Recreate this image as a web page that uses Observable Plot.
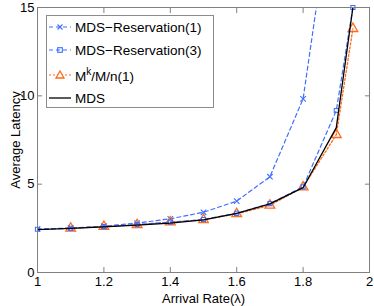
<!DOCTYPE html>
<html><head><meta charset="utf-8">
<script src="https://cdn.jsdelivr.net/npm/d3@7"></script>
<script src="https://cdn.jsdelivr.net/npm/@observablehq/plot@0.6"></script>
<style>
body{margin:0;background:#fff;font-family:"Liberation Sans",Arial,sans-serif;}
#wrap{position:relative;width:374px;height:306px;}
#legend{position:absolute;left:46px;top:15px;width:168px;height:93px;background:#fff;border:1px solid #8c8c8c;box-sizing:border-box;font-size:13.5px;color:#000;}
#legend .row{position:absolute;left:2px;height:20px;display:flex;align-items:center;}
#legend svg{width:22px;height:20px;margin-right:4px;overflow:visible}
</style>
</head><body>
<div id="wrap"><div id="chart"></div><div id="legend"></div></div>
<script>
const xRes1 = [1.0, 1.1, 1.2, 1.3, 1.4, 1.5, 1.6, 1.7, 1.8, 1.9];
const yRes1 = [2.45, 2.52, 2.62, 2.8, 3.04, 3.41, 4.04, 5.42, 9.83, 22.8];
const xRes3 = [1.0, 1.1, 1.2, 1.3, 1.4, 1.5, 1.6, 1.7, 1.8, 1.9, 1.95];
const yRes3 = [2.45, 2.5, 2.6, 2.72, 2.85, 3.0, 3.35, 3.9, 4.85, 9.17, 15.0];
const xMk = [1.1, 1.2, 1.3, 1.4, 1.5, 1.6, 1.7, 1.8, 1.9, 1.95];
const yMk = [2.5, 2.6, 2.7, 2.85, 2.98, 3.32, 3.8, 4.83, 7.8, 13.8];
const xMDS = [1.0, 1.1, 1.2, 1.3, 1.4, 1.5, 1.6, 1.7, 1.8, 1.9, 1.95];
const yMDS = [2.43, 2.5, 2.58, 2.68, 2.8, 2.98, 3.35, 3.88, 4.8, 8.2, 15.0];
const xTicks = [1, 1.2, 1.4, 1.6, 1.8, 2];
const yTicks = [0, 5, 10, 15];
const seriesNames = ["MDS\u2212Reservation(1)", "MDS\u2212Reservation(3)", "M<sup>k</sup>/M/n(1)", "MDS"];

const blue = "#3f6fff", orange = "#ff6a1a", axisGray = "#808080";
const res1 = xRes1.map((x, i) => ({x, y: yRes1[i]}));
const res3 = xRes3.map((x, i) => ({x, y: yRes3[i]}));
const mk = xMk.map((x, i) => ({x, y: yMk[i]}));
const mds = xMDS.map((x, i) => ({x, y: yMDS[i]}));

const plot = Plot.plot({
  width: 374, height: 306,
  marginLeft: 37, marginRight: 5, marginTop: 7, marginBottom: 34,
  style: {fontFamily: "Liberation Sans, Arial, sans-serif", fontSize: "13px", color: "#000", background: "#fff"},
  x: {domain: [1, 2]},
  y: {domain: [0, 15]},
  marks: [
    Plot.line(res1, {x: "x", y: "y", stroke: blue, strokeWidth: 1.2, strokeDasharray: "4,3", clip: true}),
    Plot.dot(res1, {x: "x", y: "y", symbol: "times", stroke: blue, r: 2.6, strokeWidth: 1.1, clip: true}),
    Plot.line(mk, {x: "x", y: "y", stroke: orange, strokeWidth: 1.3, strokeDasharray: "2,2", clip: true}),
    Plot.dot(mk, {x: "x", y: "y", symbol: "triangle", stroke: orange, r: 3.6, strokeWidth: 1.3, clip: true}),
    Plot.line(res3, {x: "x", y: "y", stroke: blue, strokeWidth: 1.2, strokeDasharray: "4,3", clip: true}),
    Plot.dot(res3, {x: "x", y: "y", symbol: "square", stroke: blue, r: 2.3, strokeWidth: 1.1}),
    Plot.line(mds, {x: "x", y: "y", stroke: "#000", strokeWidth: 1.3, clip: true}),
    Plot.frame({stroke: axisGray, strokeWidth: 1}),
    Plot.axisX({ticks: xTicks, anchor: "bottom", tickSize: -5, stroke: axisGray, tickFormat: () => "", label: null}),
    Plot.axisX({ticks: xTicks, anchor: "top", tickSize: -5, stroke: axisGray, tickFormat: () => "", label: null}),
    Plot.axisX({ticks: xTicks, anchor: "bottom", tickSize: 0, tickPadding: 4, tickFormat: d => String(d), label: "Arrival Rate(\u03bb)", labelAnchor: "center", labelOffset: 30, labelArrow: false}),
    Plot.axisY({ticks: yTicks, anchor: "left", tickSize: -5, stroke: axisGray, tickFormat: () => "", label: null}),
    Plot.axisY({ticks: yTicks, anchor: "right", tickSize: -5, stroke: axisGray, tickFormat: () => "", label: null}),
    Plot.axisY({ticks: yTicks, anchor: "left", tickSize: 0, tickPadding: 3, label: "Average Latency", labelAnchor: "center", labelOffset: 27, labelArrow: false})
  ]
});
document.getElementById("chart").appendChild(plot);

const legend = document.getElementById("legend");
const samples = [
  `<line x1="0" y1="10" x2="22" y2="10" stroke="${blue}" stroke-width="1.2" stroke-dasharray="4,3"/><path d="M8.5,7.5L13.5,12.5M13.5,7.5L8.5,12.5" stroke="${blue}" stroke-width="1.1"/>`,
  `<line x1="0" y1="10" x2="22" y2="10" stroke="${blue}" stroke-width="1.2" stroke-dasharray="4,3"/><rect x="8.7" y="7.7" width="4.6" height="4.6" fill="none" stroke="${blue}" stroke-width="1.1"/>`,
  `<line x1="0" y1="10" x2="22" y2="10" stroke="${orange}" stroke-width="1.2" stroke-dasharray="2,2"/><path d="M11,6L15,13H7Z" fill="#fff" stroke="${orange}" stroke-width="1.3"/>`,
  `<line x1="0" y1="10" x2="22" y2="10" stroke="#000" stroke-width="1.3"/>`
];
const rowTops = [1, 24, 49, 72];
seriesNames.forEach((name, i) => {
  const row = document.createElement("div");
  row.className = "row";
  row.style.top = rowTops[i] + "px";
  row.innerHTML = `<svg viewBox="0 0 22 20">${samples[i]}</svg><span>${name.replace("<sup>", "<sup style='font-size:10px;vertical-align:6px'>")}</span>`;
  legend.appendChild(row);
});
</script>
</body></html>
